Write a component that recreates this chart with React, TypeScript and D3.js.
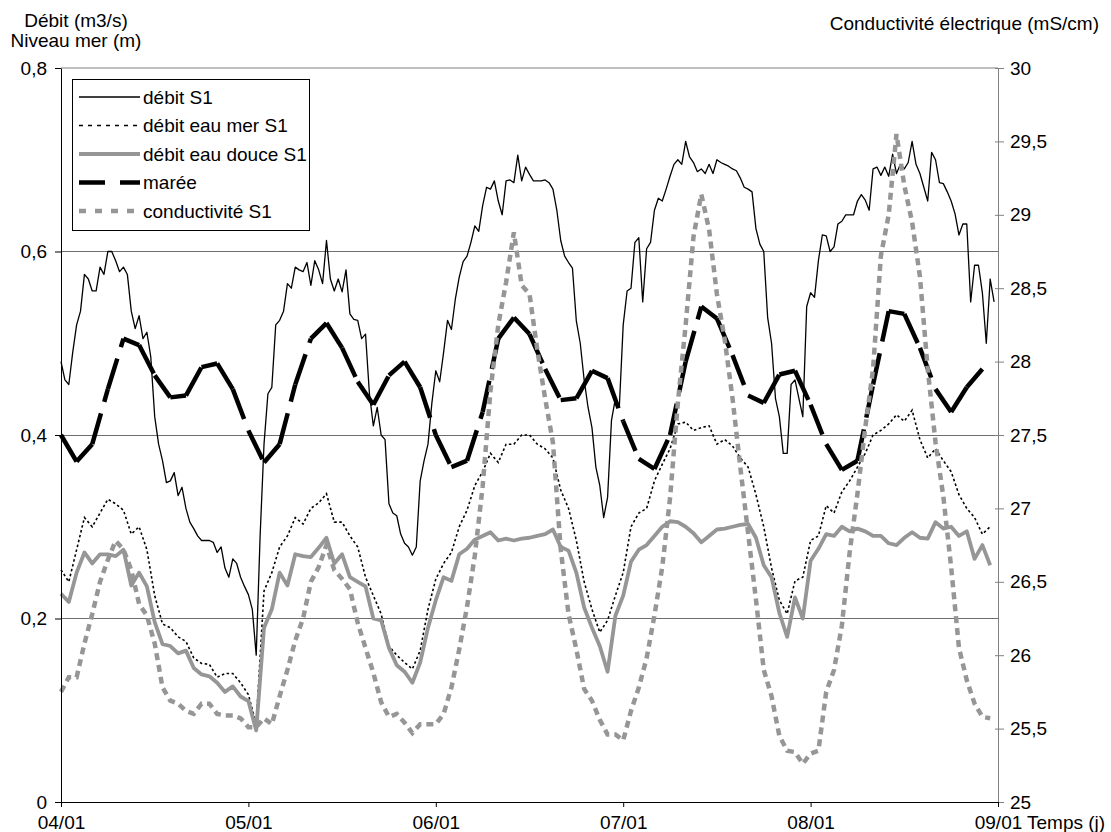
import React, { useEffect, useRef } from "react";
import * as d3 from "d3";

// x ticks: one per day, 24 h apart
const dayLabels = ["04/01", "05/01", "06/01", "07/01", "08/01", "09/01"];
const leftTicks = [0, 0.2, 0.4, 0.6, 0.8];
const rightTicks = [25, 25.5, 26, 26.5, 27, 27.5, 28, 28.5, 29, 29.5, 30];

// débit S1, every half hour from 04/01 00h
const debitS1 = [
  0.48, 0.46, 0.455, 0.49, 0.52, 0.535, 0.575, 0.57, 0.557, 0.557,
  0.583, 0.575, 0.6, 0.6, 0.59, 0.578, 0.583, 0.575, 0.535, 0.516,
  0.53, 0.505, 0.512, 0.485, 0.42, 0.39, 0.372, 0.348, 0.35, 0.359,
  0.334, 0.343, 0.32, 0.305, 0.298, 0.29, 0.285, 0.285, 0.285, 0.283,
  0.272, 0.278, 0.255, 0.245, 0.265, 0.26, 0.245, 0.235, 0.226, 0.21,
  0.16, 0.29, 0.39, 0.445, 0.452, 0.52, 0.525, 0.535, 0.565, 0.56,
  0.583, 0.58, 0.578, 0.588, 0.563, 0.59, 0.58, 0.565, 0.612, 0.57,
  0.557, 0.57, 0.556, 0.58, 0.532, 0.526, 0.525, 0.505, 0.51, 0.445,
  0.41, 0.43, 0.4, 0.395, 0.325, 0.315, 0.312, 0.292, 0.282, 0.278,
  0.269, 0.278, 0.35, 0.372, 0.39, 0.435, 0.47, 0.458, 0.49, 0.525,
  0.515, 0.548, 0.572, 0.589, 0.595, 0.61, 0.628, 0.622, 0.65, 0.67,
  0.668, 0.677, 0.655, 0.64, 0.677, 0.678, 0.675, 0.705, 0.677, 0.692,
  0.684, 0.677, 0.677, 0.677, 0.678, 0.675, 0.668, 0.645, 0.612, 0.595,
  0.588, 0.582, 0.524, 0.5, 0.46, 0.43, 0.408, 0.365, 0.345, 0.31,
  0.332, 0.416, 0.44, 0.43, 0.52, 0.557, 0.56, 0.61, 0.615, 0.545,
  0.603, 0.61, 0.645, 0.658, 0.655, 0.668, 0.682, 0.695, 0.7, 0.695,
  0.72, 0.703, 0.697, 0.687, 0.69, 0.685, 0.695, 0.685, 0.7, 0.697,
  0.695, 0.693, 0.69, 0.688, 0.68, 0.67, 0.668, 0.665, 0.625, 0.608,
  0.6, 0.528, 0.5, 0.44, 0.42, 0.38, 0.38, 0.455, 0.46, 0.44,
  0.42, 0.54, 0.555, 0.55, 0.59, 0.618, 0.617, 0.6, 0.605, 0.63,
  0.633, 0.64, 0.64, 0.64, 0.655, 0.662, 0.656, 0.645, 0.69, 0.692,
  0.683, 0.692, 0.682, 0.706, 0.685, 0.695, 0.69, 0.697, 0.72, 0.695,
  0.685, 0.67, 0.655, 0.708, 0.7, 0.675, 0.674, 0.665, 0.655, 0.641,
  0.618, 0.63, 0.63, 0.545, 0.585, 0.585, 0.555, 0.5, 0.57, 0.545,
];

// hourly series, starting 04/01 00h
const debitEauMer = [
  0.253, 0.24, 0.275, 0.31, 0.3, 0.315, 0.33, 0.325, 0.318, 0.292,
  0.3, 0.275, 0.225, 0.194, 0.19, 0.18, 0.175, 0.157, 0.151, 0.15,
  0.136, 0.14, 0.14, 0.13, 0.117, 0.085, 0.23, 0.25, 0.278, 0.29,
  0.31, 0.303, 0.32, 0.326, 0.336, 0.305, 0.305, 0.29, 0.278, 0.245,
  0.225, 0.205, 0.17, 0.16, 0.152, 0.145, 0.165, 0.21, 0.243, 0.26,
  0.272, 0.3, 0.318, 0.345, 0.36, 0.38, 0.37, 0.39, 0.39, 0.4,
  0.4, 0.39, 0.385, 0.375, 0.34, 0.32, 0.285, 0.24, 0.21, 0.185,
  0.198, 0.225, 0.25, 0.3, 0.315, 0.32, 0.35, 0.368, 0.385, 0.412,
  0.414, 0.405, 0.408, 0.41, 0.39, 0.395, 0.388, 0.375, 0.365, 0.335,
  0.3, 0.255, 0.22, 0.205, 0.241, 0.245, 0.285, 0.29, 0.323, 0.315,
  0.338, 0.35, 0.365, 0.38, 0.4, 0.405, 0.412, 0.422, 0.415, 0.427,
  0.395, 0.375, 0.385, 0.372, 0.36, 0.335, 0.32, 0.31, 0.292, 0.3,
];

const debitEauDouce = [
  0.227, 0.218, 0.25, 0.272, 0.26, 0.27, 0.27, 0.268, 0.275, 0.236,
  0.25, 0.235, 0.196, 0.172, 0.17, 0.162, 0.165, 0.146, 0.139, 0.137,
  0.13, 0.12, 0.126, 0.115, 0.11, 0.078, 0.19, 0.21, 0.25, 0.236,
  0.27, 0.268, 0.267, 0.277, 0.288, 0.26, 0.27, 0.245, 0.24, 0.235,
  0.2, 0.198, 0.168, 0.149, 0.142, 0.13, 0.152, 0.19, 0.22, 0.245,
  0.241, 0.27, 0.276, 0.286, 0.29, 0.294, 0.285, 0.287, 0.285, 0.287,
  0.288, 0.29, 0.292, 0.297, 0.278, 0.274, 0.25, 0.212, 0.19, 0.17,
  0.142, 0.203, 0.225, 0.262, 0.275, 0.28, 0.29, 0.3, 0.306, 0.305,
  0.3, 0.293, 0.283, 0.29, 0.297, 0.298, 0.3, 0.302, 0.303, 0.288,
  0.258, 0.245, 0.206, 0.18, 0.223, 0.2, 0.263, 0.276, 0.292, 0.29,
  0.3, 0.295, 0.298, 0.295, 0.29, 0.29, 0.282, 0.28, 0.288, 0.294,
  0.288, 0.287, 0.305, 0.298, 0.3, 0.29, 0.295, 0.265, 0.28, 0.258,
];

const conductivite = [
  25.75, 25.85, 25.85, 26.08, 26.28, 26.5, 26.65, 26.78, 26.72, 26.58,
  26.35, 26.27, 26.08, 25.78, 25.69, 25.67, 25.62, 25.6, 25.67, 25.67,
  25.6, 25.59, 25.59, 25.57, 25.51, 25.51, 25.57, 25.53, 25.72, 25.9,
  26.1, 26.25, 26.5, 26.6, 26.75, 26.58, 26.52, 26.45, 26.22, 26.05,
  25.88, 25.68, 25.58, 25.6, 25.54, 25.47, 25.53, 25.53, 25.53, 25.6,
  25.78, 26.04, 26.33, 26.68, 27.15, 27.8, 28.25, 28.54, 28.88, 28.52,
  28.46, 28.08, 27.75, 27.45, 26.72, 26.28, 26.04, 25.77, 25.69, 25.56,
  25.46, 25.46, 25.42, 25.62, 25.78, 25.98, 26.27, 26.6, 27.07, 27.72,
  28.25, 28.85, 29.14, 28.9, 28.46, 28.15, 27.75, 27.28, 26.83, 26.38,
  25.9, 25.72, 25.45, 25.35, 25.34, 25.26, 25.33, 25.35, 25.75, 25.9,
  26.2, 26.7, 27.1, 27.55, 27.95, 28.72, 29.0, 29.55, 29.2, 28.95,
  28.58, 27.95, 27.45, 27.08, 26.6, 26.05, 25.83, 25.67, 25.58, 25.57,
];

// tide every 2 hours
const maree = [
  0.4, 0.371, 0.39, 0.45, 0.505, 0.498, 0.465, 0.441, 0.443, 0.474,
  0.478, 0.45, 0.405, 0.37, 0.39, 0.455, 0.505, 0.522, 0.495, 0.458,
  0.433, 0.465, 0.48, 0.452, 0.4, 0.365, 0.372, 0.425, 0.505, 0.528,
  0.51, 0.472, 0.438, 0.44, 0.47, 0.462, 0.415, 0.374, 0.363, 0.4,
  0.48, 0.54, 0.527, 0.487, 0.443, 0.435, 0.466, 0.47, 0.433, 0.39,
  0.362, 0.372, 0.455, 0.535, 0.532, 0.495, 0.45, 0.425, 0.452, 0.472,
];

const DEBIT_STEP = 0.5;
const HOUR_STEP = 1;
const MAREE_STEP = 2;
const GRAY = "#969696";
const FONT = "'Liberation Sans', Arial, sans-serif";
const FS = 19;

const fmt = (d: number) => String(d).replace(".", ",");

export default function App() {
  const graphRef = useRef(null);

  useEffect(() => {
    const root = d3.select(graphRef.current as any);
    root.selectAll("*").remove();

    const width = 1111;
    const height = 832;
    const left = 61;
    const right = 998;
    const top = 68;
    const bottom = 802;

    const svg = root
      .append("svg")
      .attr("width", width)
      .attr("height", height)
      .style("display", "block")
      .style("font-family", FONT);

    svg.append("rect").attr("width", width).attr("height", height).attr("fill", "#fff");

    const x = d3.scaleLinear().domain([0, 120]).range([left, right]);
    const y = d3.scaleLinear().domain([0, 0.8]).range([bottom, top]);
    const y2 = d3.scaleLinear().domain([25, 30]).range([bottom, top]);

    // gridlines
    svg
      .selectAll(".grid")
      .data(leftTicks.filter((d) => d > 0))
      .enter()
      .append("line")
      .attr("x1", left)
      .attr("x2", right)
      .attr("y1", (d) => y(d))
      .attr("y2", (d) => y(d))
      .attr("stroke", (d) => (d === 0.8 ? "#c0c0c0" : "#6e6e6e"))
      .attr("stroke-width", (d) => (d === 0.8 ? 1.5 : 1))
      .attr("shape-rendering", "crispEdges");

    const line = (yScale: any, step: number) =>
      d3
        .line()
        .x((d: any, i: number) => x(i * step))
        .y((d: any) => yScale(d));

    // débit S1
    svg
      .append("path")
      .datum(debitS1)
      .attr("d", line(y, DEBIT_STEP) as any)
      .attr("fill", "none")
      .attr("stroke", "#000")
      .attr("stroke-width", 1.3)
      .attr("stroke-linejoin", "round");

    // débit eau mer S1
    svg
      .append("path")
      .datum(debitEauMer)
      .attr("d", line(y, HOUR_STEP) as any)
      .attr("fill", "none")
      .attr("stroke", "#000")
      .attr("stroke-width", 1.6)
      .attr("stroke-dasharray", "2.5 2.5");

    // débit eau douce S1
    svg
      .append("path")
      .datum(debitEauDouce)
      .attr("d", line(y, HOUR_STEP) as any)
      .attr("fill", "none")
      .attr("stroke", GRAY)
      .attr("stroke-width", 3.8)
      .attr("stroke-linejoin", "round");

    // marée: dash pattern restarts on each segment, as in the source chart
    const mareePts = maree.map((v, i) => [x(i * MAREE_STEP), y(v)]);
    svg
      .selectAll(".maree")
      .data(d3.pairs(mareePts))
      .enter()
      .append("path")
      .attr("d", (p: any) => d3.line()(p))
      .attr("fill", "none")
      .attr("stroke", "#000")
      .attr("stroke-width", 4.5)
      .attr("stroke-dasharray", "32 12");

    // conductivité (right axis)
    svg
      .append("path")
      .datum(conductivite)
      .attr("d", line(y2, HOUR_STEP) as any)
      .attr("fill", "none")
      .attr("stroke", GRAY)
      .attr("stroke-width", 4.5)
      .attr("stroke-dasharray", "7 5");

    // left axis
    const gl = svg
      .append("g")
      .attr("transform", `translate(${left},0)`)
      .call(
        d3
          .axisLeft(y)
          .tickValues(leftTicks)
          .tickSize(6)
          .tickSizeOuter(0)
          .tickPadding(8)
          .tickFormat(fmt as any) as any,
      );
    gl.attr("font-size", FS).attr("font-family", FONT);
    gl.selectAll("text").attr("fill", "#000");

    // right axis
    const gr = svg
      .append("g")
      .attr("transform", `translate(${right},0)`)
      .call(
        d3
          .axisRight(y2)
          .tickValues(rightTicks)
          .tickSize(6)
          .tickSizeOuter(0)
          .tickPadding(6)
          .tickFormat(fmt as any) as any,
      );
    gr.attr("font-size", FS).attr("font-family", FONT);
    gr.select(".domain").attr("stroke", "#808080");
    gr.selectAll(".tick line").attr("stroke", "#808080").attr("x1", -3);
    gr.selectAll("text").attr("fill", "#000");

    // bottom axis
    const gb = svg
      .append("g")
      .attr("transform", `translate(0,${bottom})`)
      .call(
        d3
          .axisBottom(x)
          .tickValues(dayLabels.map((d, i) => i * 24))
          .tickSize(5)
          .tickSizeOuter(0)
          .tickFormat((d: any) => dayLabels[d / 24]) as any,
      );
    gb.attr("font-size", FS).attr("font-family", FONT);
    gb.selectAll("text").attr("fill", "#000").attr("y", 27).attr("dy", null);

    // axis titles
    const title = (tx: number, ty: number, s: string, anchor: string) =>
      svg
        .append("text")
        .attr("x", tx)
        .attr("y", ty)
        .attr("text-anchor", anchor)
        .attr("font-size", FS)
        .attr("fill", "#000")
        .text(s);
    title(76, 27, "Débit (m3/s)", "middle");
    title(76, 47, "Niveau mer (m)", "middle");
    title(1099, 30, "Conductivité électrique (mS/cm)", "end");
    title(1027, bottom + 27, "Temps (j)", "start");

    // legend
    const legend = svg.append("g").attr("class", "legend");
    legend
      .append("rect")
      .attr("x", 72.5)
      .attr("y", 79.5)
      .attr("width", 237)
      .attr("height", 151)
      .attr("fill", "#fff")
      .attr("stroke", "#000")
      .attr("stroke-width", 1);

    const items = [
      { label: "débit S1", color: "#000", w: 1.3, dash: null },
      { label: "débit eau mer S1", color: "#000", w: 1.6, dash: "4 5" },
      { label: "débit eau douce S1", color: GRAY, w: 3.8, dash: null },
      { label: "marée", color: "#000", w: 4.5, dash: "26 15" },
      { label: "conductivité S1", color: GRAY, w: 4.5, dash: "7 9" },
    ];
    items.forEach((it, i) => {
      const cy = 97 + i * 28.5;
      legend
        .append("line")
        .attr("x1", 79)
        .attr("x2", 140)
        .attr("y1", cy)
        .attr("y2", cy)
        .attr("stroke", it.color)
        .attr("stroke-width", it.w)
        .attr("stroke-dasharray", it.dash);
      legend
        .append("text")
        .attr("x", 143)
        .attr("y", cy + 6.5)
        .attr("font-size", FS)
        .attr("fill", "#000")
        .text(it.label);
    });
  }, []);

  return <div ref={graphRef} style={{ position: "absolute", left: 0, top: 0 }}></div>;
}
